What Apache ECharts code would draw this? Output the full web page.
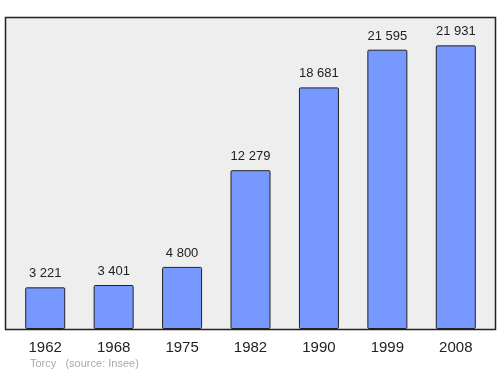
<!DOCTYPE html>
<html><head><meta charset="utf-8">
<script src="https://cdn.jsdelivr.net/npm/echarts@6/dist/echarts.min.js"></script>
<style>html,body{margin:0;padding:0;background:#fff}#c{width:500px;height:374px}</style>
</head><body><div id="c"></div>
<script>
const categories = ['1962','1968','1975','1982','1990','1999','2008'];
const population = [3221, 3401, 4800, 12279, 18681, 21595, 21931];
const footer = 'Torcy   (source: Insee)';

function fmt(v){ return String(v).replace(/\B(?=(\d{3})+(?!\d))/g, ' '); }

const chart = echarts.init(document.getElementById('c'), null, {renderer:'canvas'});
chart.setOption({
  animation:false,
  textStyle:{fontFamily:'Liberation Sans, Arial, sans-serif'},
  graphic:[
    {type:'rect', z:-10, shape:{x:5.5,y:17.5,width:490,height:312}, style:{fill:'#eeeeee', stroke:'#222', lineWidth:1.5}},
    {type:'text', left:30, top:358, style:{text:footer, fill:'#aaaaaa', font:'11px Liberation Sans, Arial, sans-serif'}}
  ],
  grid:{left:11, right:10, top:17, bottom:45, containLabel:false},
  xAxis:{type:'category', data:categories, axisLine:{show:false}, axisTick:{show:false},
    axisLabel:{fontSize:15, color:'#222', margin:11}},
  yAxis:{type:'value', min:0, max:Math.max(...population)*1.1, show:false, splitLine:{show:false}},
  series:[{type:'bar', data:population, barWidth:40,
    itemStyle:{color:'#7799ff', borderColor:'#222', borderWidth:1, borderRadius:1},
    label:{show:true, position:'top', distance:7, fontSize:13, color:'#222', formatter:p=>fmt(p.value)}
  }]
});
</script></body></html>
